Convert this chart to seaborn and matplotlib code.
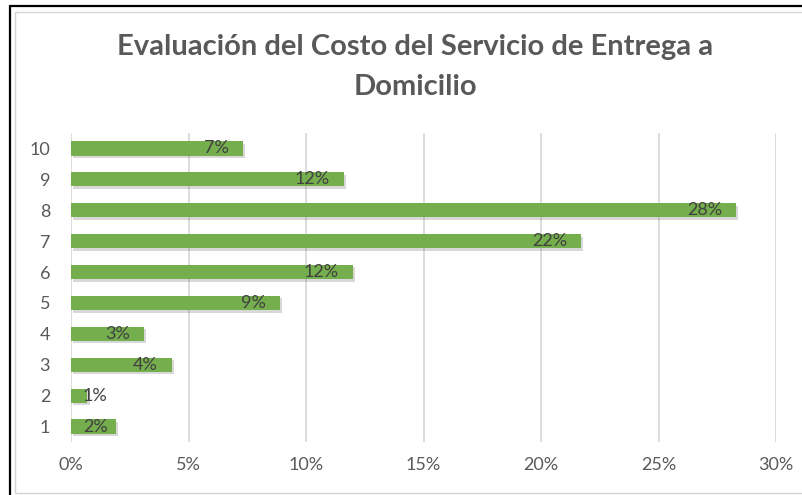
import matplotlib
matplotlib.use("Agg")
import matplotlib.pyplot as plt
import matplotlib.patheffects as pe
from matplotlib.patches import Rectangle
from matplotlib.lines import Line2D
import seaborn as sns
import pandas as pd

# Ratings (top to bottom) and share of responses, in percent
ratings = ["10", "9", "8", "7", "6", "5", "4", "3", "2", "1"]
shares = [7.3, 11.6, 28.3, 21.7, 12.0, 8.9, 3.1, 4.3, 0.7, 1.9]
x_ticks = [0, 5, 10, 15, 20, 25, 30]
x_tick_labels = ["0%", "5%", "10%", "15%", "20%", "25%", "30%"]
title_lines = ["Evaluación del Costo del Servicio de Entrega a", "Domicilio"]

sns.set_theme(style="white")
plt.rcParams["font.family"] = ["Lato", "DejaVu Sans"]

df = pd.DataFrame({"rating": ratings, "share": shares})

fig = plt.figure(figsize=(8.02, 4.95), dpi=100, facecolor="white")
ax = fig.add_axes([71 / 802, 1 - 442 / 495, (776 - 71) / 802, (442 - 133) / 495])

sns.barplot(data=df, x="share", y="rating", order=ratings, orient="h",
            color="#74AE4D", saturation=1, width=0.46, ax=ax)

shadow = [pe.SimplePatchShadow(offset=(1.5, -1.8), shadow_rgbFace="#666666", alpha=0.25),
          pe.Normal()]
for bar in ax.patches:
    bar.set_edgecolor("none")
    bar.set_path_effects(shadow)

ax.set_xlim(0, 30)
ax.set_ylim(len(ratings) - 0.5, -0.5)
ax.set_xticks(x_ticks)
ax.set_xticklabels(x_tick_labels)
ax.set_xlabel("")
ax.set_ylabel("")
ax.grid(axis="x", color="#D9D9D9", linewidth=1.3)
ax.set_axisbelow(True)
for s in ax.spines.values():
    s.set_visible(False)
ax.tick_params(axis="both", length=0, labelsize=13, labelcolor="#595959")
ax.tick_params(axis="y", pad=15)
ax.tick_params(axis="x", pad=11)

# Value labels at the inside end of each bar
for i, v in enumerate(shares):
    label = f"{round(v):.0f}%"
    if v < 2.2:
        ax.annotate(label, xy=(0, i), xytext=(12, 0), textcoords="offset pixels",
                    ha="left", va="center", fontsize=13, color="#404040")
    else:
        ax.annotate(label, xy=(v, i), xytext=(-14, 0), textcoords="offset pixels",
                    ha="right", va="center", fontsize=13, color="#404040")

fig.text(415 / 802, 1 - 47 / 495, title_lines[0], ha="center", va="center",
         fontsize=21, fontweight="bold", color="#595959")
fig.text(415 / 802, 1 - 87 / 495, title_lines[1], ha="center", va="center",
         fontsize=21, fontweight="bold", color="#595959")

# Chart frame: outer dark border and inner light border
W, H = 802, 495
fig.add_artist(Line2D([9.5 / W, 9.5 / W], [0, 1 - 5.5 / H], transform=fig.transFigure,
                      color="black", linewidth=1.6))
fig.add_artist(Line2D([9.5 / W, 1], [1 - 5.5 / H, 1 - 5.5 / H], transform=fig.transFigure,
                      color="black", linewidth=1.6))
fig.add_artist(Rectangle((15 / W, 1 - 492.5 / H), 1, (492.5 - 12) / H,
                         transform=fig.transFigure, fill=False,
                         edgecolor="#D4D4D4", linewidth=1.0))

fig.savefig("out.png", dpi=100, facecolor="white")
